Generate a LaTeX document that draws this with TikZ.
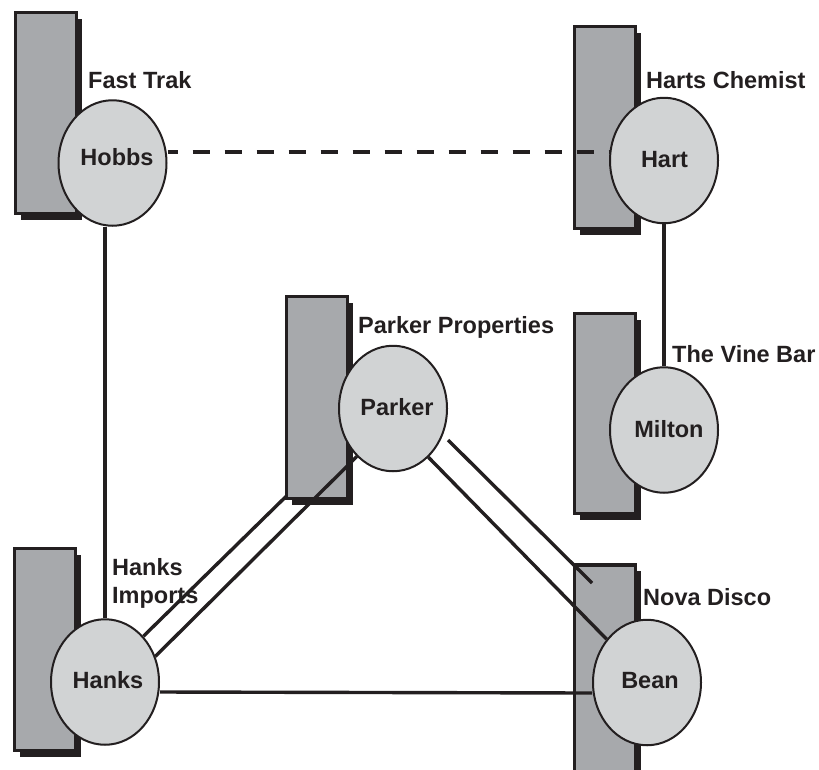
\documentclass[tikz,border=0pt]{standalone}
\usepackage{fontspec}
\setmainfont{Liberation Sans}
\usetikzlibrary{shapes.geometric,shadows}
\definecolor{boxgray}{HTML}{A7A9AC}
\definecolor{ellgray}{HTML}{D1D3D4}
\definecolor{ink}{HTML}{231F20}
\pgfdeclarelayer{under}
\pgfdeclarelayer{boxes}
\pgfsetlayers{under,boxes,main}
\newcommand{\inname}[3]{\raisebox{#2}[0pt][0pt]{\makebox[0pt][c]{\hspace*{#1}#3\hspace*{-#1}}}}
\begin{document}
\begin{tikzpicture}[x=1pt,y=-1pt,
  font=\fontsize{23.5}{28}\selectfont\bfseries,
  panel/.style={draw=ink, line width=3.2pt, fill=boxgray, minimum width=61pt, inner sep=0pt,
    general shadow={fill=ink, shadow xshift=5.5pt, shadow yshift=-6pt}},
  person/.style={ellipse, draw=ink, line width=2pt, fill=ellgray, minimum width=108pt,
    minimum height=125.5pt, inner sep=0pt, text=ink},
  link/.style={draw=ink, line width=3.4pt},
  firm/.style={anchor=base west, inner sep=0pt, text=ink}]
\useasboundingbox (0,0) rectangle (819,769);
\clip (0,0) rectangle (819,769);

% boxes
\begin{pgfonlayer}{boxes}
\node[panel, minimum height=201pt] (hobbsbox)  at (46,113) {};
\node[panel, minimum height=202pt] (hartbox)   at (605,127.5) {};
\node[panel, minimum height=200pt] (miltonbox) at (605,413.5) {};
\node[panel, minimum height=202pt] (parkerbox) at (317,397.5) {};
\node[panel, minimum height=202pt] (hanksbox)  at (45,649.5) {};
\node[panel, minimum height=230pt] (beanbox)   at (605,680) {};
\end{pgfonlayer}

% people
\node[person] (hobbs)  at (112.5,163) {\inname{4.5pt}{-2pt}{Hobbs}};
\node[person] (hart)   at (664,160.5) {\inname{0.5pt}{-6.5pt}{Hart}};
\node[person] (milton) at (664,430)   {\inname{5pt}{-7pt}{Milton}};
\node[person] (parker) at (393,408.5) {\inname{4pt}{-6.5pt}{Parker}};
\node[person] (hanks)  at (105,682)   {\inname{3pt}{-6pt}{Hanks}};
\node[person] (bean)   at (647,682.5) {\inname{3pt}{-5.5pt}{Bean}};

% firm labels
\node[firm] (fasttrak) at (88,88)   {Fast Trak};
\node[firm] (harts)    at (646,88)  {Harts Chemist};
\node[firm] (parkprop) at (358,333) {Parker Properties};
\node[firm] (vine)     at (672,362) {The Vine Bar};
\node[firm] (nova)     at (643,605) {Nova Disco};
\node[firm, anchor=north west, align=left] (hanksimp) at (112,558) {Hanks\\Imports};

% free ends
\coordinate (hpend) at (313,470);
\coordinate (pbA) at (448,440);
\coordinate (pbB) at (592,583);

% connectors
\begin{pgfonlayer}{under}
\draw[link] (hanks.50) -- (hpend);
\end{pgfonlayer}
\draw[link, dash pattern=on 17pt off 15pt, dash phase=7pt]
  ([yshift=11pt]hobbs.east) -- ([yshift=8.5pt]hart.west);
\draw[link] (hanks.north) -- (hanks.north |- hobbs.south);
\draw[link] (hart.south) -- (milton.north);
\draw[link] ([yshift=-10pt]hanks.east) -- ([yshift=-10.5pt]bean.west);
\draw[link] (hanks.27) -- (parker.-127);
\draw[link] (parker.-54) -- (bean.133);
\draw[link] (pbA) -- (pbB);
\end{tikzpicture}
\end{document}
